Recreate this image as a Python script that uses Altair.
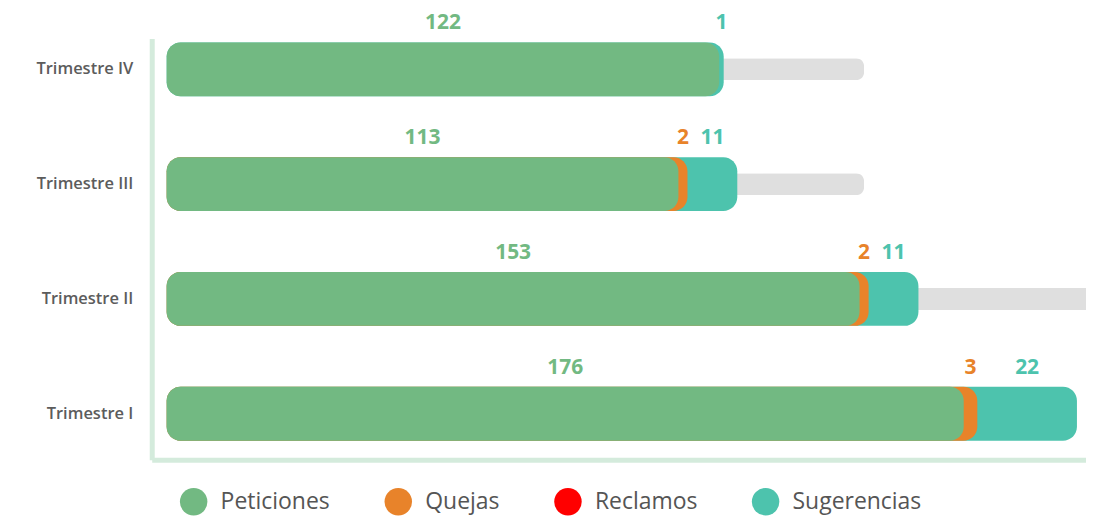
import altair as alt
import pandas as pd

quarters = ["Trimestre IV", "Trimestre III", "Trimestre II", "Trimestre I"]
categories = ["Peticiones", "Quejas", "Reclamos", "Sugerencias"]
peticiones = [122, 113, 153, 176]
quejas = [0, 2, 2, 3]
reclamos = [0, 0, 0, 0]
sugerencias = [1, 11, 11, 22]
track = [154, 154, 212, 201]
colors = ["#72b982", "#e8832a", "#ff0000", "#4dc3ad"]

series = [peticiones, quejas, reclamos, sugerencias]
rows = []
for qi, q in enumerate(quarters):
    start = 0
    for ci, c in enumerate(categories):
        v = series[ci][qi]
        end = start + v
        if v > 0:
            rows.append({"quarter": q, "category": c, "value": v,
                         "start": start, "end": end, "mid": (start + end) / 2, "z": ci})
        start = end
seg = pd.DataFrame(rows).sort_values("z", ascending=False, kind="stable")
trk = pd.DataFrame({"quarter": quarters, "track": track})

FRAME = "#d4ebdc"
xscale = alt.Scale(domain=[-3.3, 203])
xaxis = alt.Axis(title=None, labels=False, ticks=False, grid=False,
                 domainColor=FRAME, domainWidth=5)
yenc = alt.Y("quarter:N", sort=quarters,
             scale=alt.Scale(paddingInner=0.461, paddingOuter=0.0653, align=0),
             axis=alt.Axis(title=None, ticks=False, labelPadding=19, labelFontSize=16.5,
                           labelFont="Open Sans", labelFontWeight=600, labelColor="#5c5c5c",
                           domainColor=FRAME, domainWidth=5))
cscale = alt.Scale(domain=categories, range=colors)

tracks = alt.Chart(trk).mark_bar(size=22, cornerRadius=8, color="#dfdfdf").encode(
    y=yenc,
    x=alt.X("track:Q", scale=xscale, axis=xaxis),
)

bars = alt.Chart(seg).mark_bar(size=54, cornerRadius=14).encode(
    y=yenc,
    x=alt.X("end:Q", stack=None, scale=xscale, axis=xaxis),
    color=alt.Color("category:N", scale=cscale,
                    legend=alt.Legend(orient="none", legendX=28, legendY=450,
                                      direction="horizontal", title=None,
                                      symbolType="circle", symbolSize=760,
                                      symbolStrokeWidth=0, symbolOpacity=1,
                                      labelFontSize=23, labelFont="Open Sans",
                                      labelColor="#555555", columnPadding=54,
                                      labelOffset=13)),
)

labels = alt.Chart(seg).mark_text(fontSize=21, fontWeight="bold", font="Open Sans",
                                  dy=-46, baseline="middle").encode(
    y=yenc,
    x=alt.X("mid:Q", scale=xscale, axis=xaxis),
    text="value:Q",
    color=alt.Color("category:N", scale=cscale, legend=None),
)

chart = alt.layer(tracks, bars, labels).properties(
    width=936, height=422,
    padding={"left": 144, "top": 30, "right": 0, "bottom": 58},
    autosize=alt.AutoSizeParams(type="none"),
).configure_view(stroke=None)

chart.save("out.html", embed_options={"renderer": "svg", "actions": False})
